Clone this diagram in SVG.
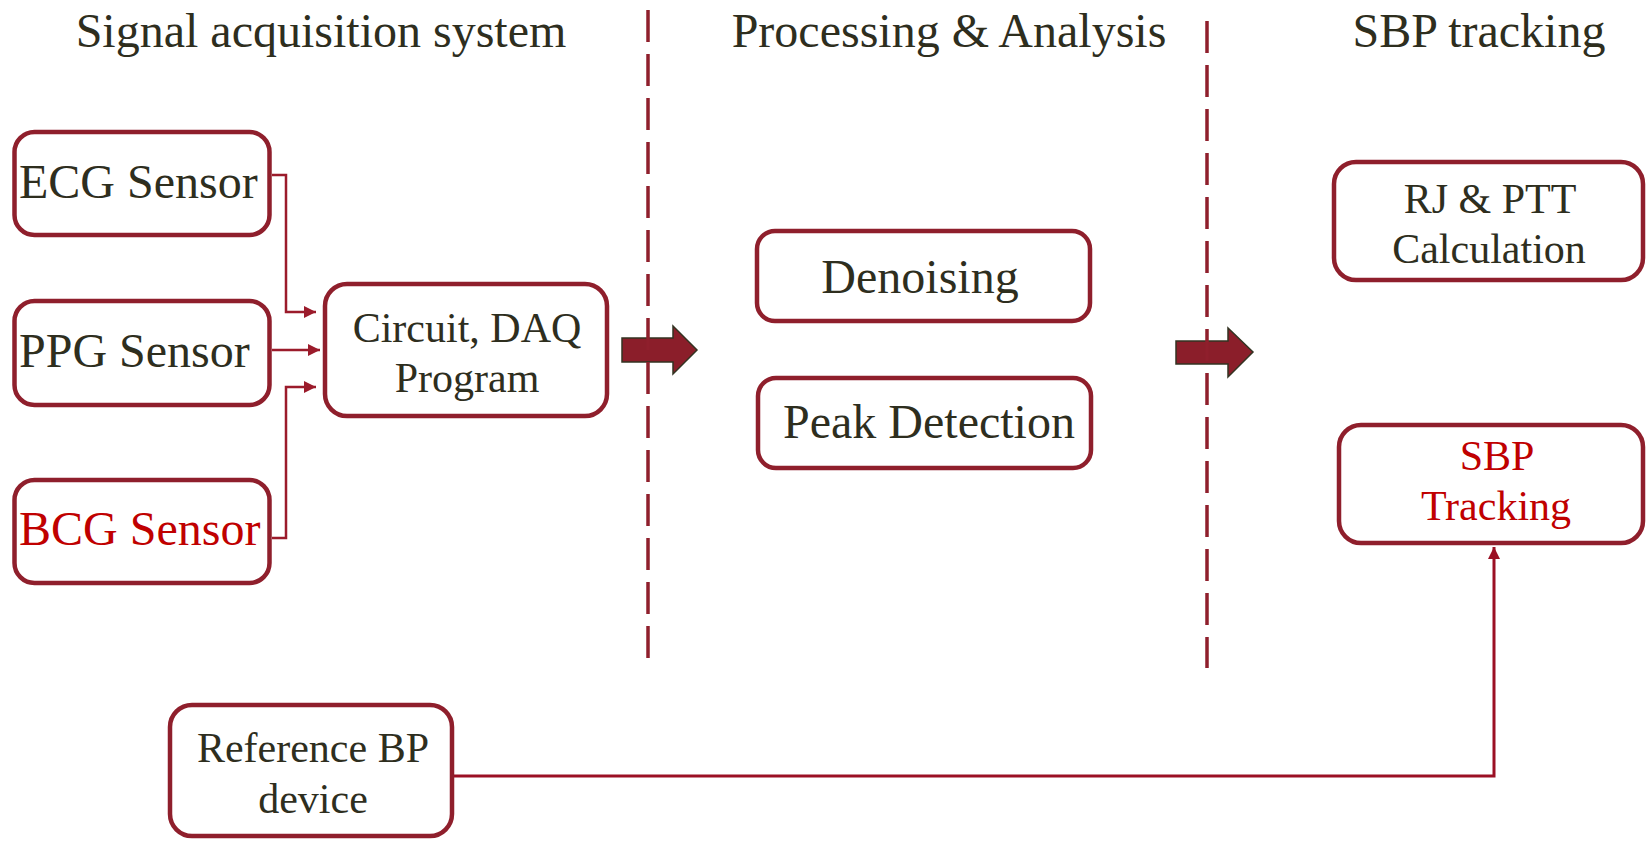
<svg xmlns="http://www.w3.org/2000/svg" width="1648" height="841" viewBox="0 0 1648 841">
  <style>
    .box { fill: #ffffff; stroke: #8f1f2c; stroke-width: 4.5; }
    .txt { font-family: "Liberation Serif", "Times New Roman", serif; fill: #2e2e1e; }
    .red { fill: #c00000; }
    .t48 { font-size: 48px; }
    .t42 { font-size: 42px; }
    .mid { text-anchor: middle; }
    .conn { fill: none; stroke: #9b1b2b; stroke-width: 2.5; }
    .conn3 { fill: none; stroke: #9b1024; stroke-width: 3; }
    .divider { stroke: #8f1f2c; stroke-width: 3.5; stroke-dasharray: 32 12; }
    .bigarrow { fill: #8b1e2a; stroke: #333322; stroke-width: 1.5; }
  </style>
  <defs>
    <marker id="tri" viewBox="0 0 10 10" refX="10" refY="5" markerWidth="14" markerHeight="12" markerUnits="userSpaceOnUse" orient="auto">
      <path d="M0,0 L10,5 L0,10 Z" fill="#9b1b2b"/>
    </marker>
    <marker id="triUp" viewBox="0 0 10 10" refX="10" refY="5" markerWidth="12" markerHeight="15" markerUnits="userSpaceOnUse" orient="auto">
      <path d="M0,0 L10,5 L0,10 Z" fill="#9b1024"/>
    </marker>
  </defs>

  <rect width="1648" height="841" fill="#ffffff"/>

  <!-- Column headings -->
  <g id="headings">
    <text class="txt t48 mid" x="321" y="47">Signal acquisition system</text>
    <text class="txt t48 mid" x="949" y="47">Processing &amp; Analysis</text>
    <text class="txt t48 mid" x="1479" y="47">SBP tracking</text>
  </g>

  <!-- Stage-to-stage block arrows -->
  <g id="stage-arrows">
    <path class="bigarrow" d="M622,338 L673,338 L673,326 L697,350 L673,374 L673,362 L622,362 Z"/>
    <path class="bigarrow" d="M1176,341 L1228,341 L1228,328 L1253,352 L1228,377 L1228,364 L1176,364 Z"/>
  </g>

  <!-- Dashed stage dividers -->
  <g id="dividers">
    <line class="divider" x1="648" y1="10" x2="648" y2="658"/>
    <line class="divider" x1="1207" y1="21" x2="1207" y2="668"/>
  </g>

  <!-- Connectors -->
  <g id="connectors">
    <polyline class="conn" points="272,175 286,175 286,312 316,312" marker-end="url(#tri)"/>
    <polyline class="conn" points="272,350 320,350" marker-end="url(#tri)"/>
    <polyline class="conn" points="272,538 286,538 286,387 316,387" marker-end="url(#tri)"/>
    <polyline class="conn3" points="454,776 1494,776 1494,547" marker-end="url(#triUp)"/>
  </g>

  <!-- Signal acquisition nodes -->
  <g id="ecg-sensor">
    <rect class="box" x="14.5" y="132" width="255" height="103" rx="20"/>
    <text class="txt t48" x="19" y="198">ECG Sensor</text>
  </g>
  <g id="ppg-sensor">
    <rect class="box" x="14.5" y="301" width="255" height="104" rx="20"/>
    <text class="txt t48" x="19" y="367">PPG Sensor</text>
  </g>
  <g id="bcg-sensor">
    <rect class="box" x="14.5" y="480" width="255" height="103" rx="20"/>
    <text class="txt t48 red" x="19" y="545">BCG Sensor</text>
  </g>
  <g id="circuit-daq">
    <rect class="box" x="325" y="284" width="282" height="132" rx="22"/>
    <text class="txt t42 mid" x="467" y="342">Circuit, DAQ</text>
    <text class="txt t42 mid" x="467" y="392">Program</text>
  </g>

  <!-- Processing nodes -->
  <g id="denoising">
    <rect class="box" x="757" y="231" width="333" height="90" rx="18"/>
    <text class="txt t48 mid" x="920" y="293">Denoising</text>
  </g>
  <g id="peak-detection">
    <rect class="box" x="758" y="378" width="333" height="90" rx="18"/>
    <text class="txt t48 mid" x="929" y="438">Peak Detection</text>
  </g>

  <!-- SBP tracking nodes -->
  <g id="rj-ptt">
    <rect class="box" x="1334" y="162" width="309" height="118" rx="22"/>
    <text class="txt t42 mid" x="1490" y="213">RJ &amp; PTT</text>
    <text class="txt t42 mid" x="1489" y="263">Calculation</text>
  </g>
  <g id="sbp-tracking">
    <rect class="box" x="1339" y="425" width="304" height="118" rx="22"/>
    <text class="txt t42 mid red" x="1497" y="470">SBP</text>
    <text class="txt t42 mid red" x="1496" y="520">Tracking</text>
  </g>

  <!-- Reference device -->
  <g id="reference-bp">
    <rect class="box" x="170" y="705" width="282" height="131" rx="22"/>
    <text class="txt t42 mid" x="313" y="762">Reference BP</text>
    <text class="txt t42 mid" x="313" y="813">device</text>
  </g>
</svg>
